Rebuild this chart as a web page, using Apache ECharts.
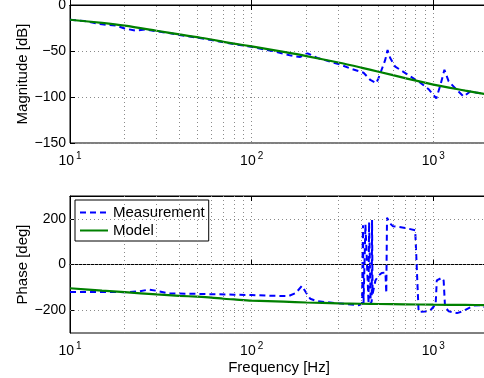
<!DOCTYPE html>
<html>
<head>
<meta charset="utf-8">
<script src="https://cdn.jsdelivr.net/npm/echarts@6/dist/echarts.min.js"></script>
<style>
  html, body { margin: 0; padding: 0; background: #fff; }
  #chart { width: 484px; height: 378px; }
</style>
</head>
<body>
<div id="chart"></div>
<script>
// magnitude, measured
const magFreq = [10, 12, 15, 18, 20, 23, 26, 30, 35, 40, 50, 60, 80, 100, 130, 165, 185, 203, 230, 270, 310, 349, 413, 450, 485, 498, 543, 560, 580, 617, 701, 848, 942, 1039, 1094, 1151, 1215, 1350, 1468, 1598, 1740, 1893, 2000]
const magMeas = [-16, -17.5, -21, -22.5, -25.5, -28, -26.5, -28.5, -30.5, -32.5, -35.5, -38, -42.5, -45.5, -50, -55, -56.5, -52.5, -57.5, -61.5, -65, -69, -73.6, -81.5, -85, -80, -60, -49, -58, -67, -74, -84.5, -91.5, -101.5, -87, -70.5, -83, -92.5, -99.5, -94, -95.5, -96.5, -97]

// model (both plots)
const modelFreq = [10, 15, 20, 30, 40, 50, 60, 70, 80, 100, 150, 200, 300, 400, 500, 700, 1000, 1500, 2000]
const modelMag = [-16, -19.5, -22.5, -28, -32, -35, -37.5, -40, -42, -45, -51, -55.5, -62.5, -68, -72.5, -79.5, -86.5, -93, -97.5]
const modelPhase = [-104, -114, -121, -131, -137, -141, -145, -150, -153, -158, -163, -166.5, -170, -172, -173, -174.5, -176, -177, -178]

// phase, measured
const phaseFreq = [10, 15, 20, 24, 27, 30, 35, 45, 60, 80, 100, 130, 160, 175, 189, 200, 210, 230, 300, 390, 405, 410, 413, 421, 423, 440, 443, 448, 452, 458, 460, 463, 480, 500, 520, 545, 551, 556, 580, 600, 700, 795, 805, 830, 900, 960, 1000, 1030, 1045, 1115, 1140, 1160, 1215, 1350, 1450, 1530, 1670, 1780, 1900, 2000]
const phaseMeas = [-120, -120, -121, -118, -110, -115, -127, -128, -130, -132, -134, -137, -138, -125, -94, -125, -150, -161, -170, -178, -172, 172, -170, -168, 175, -170, 185, 190, -172, -160, 195, -130, -70, -48, -37, -35, -125, 205, 178, 168, 160, 150, 150, -208, -206, -202, -186, -175, -70, -58, -70, -185, -205, -213, -205, -195, -180, -178, -185, -188]

const minorFreqs = [20, 30, 40, 50, 60, 70, 80, 90, 200, 300, 400, 500, 600, 700, 800, 900]
const phaseTicks = [-200, 0, 200]

const zip = (xs, ys) => xs.map((x, i) => [x, ys[i]])

const FONT = 'Liberation Sans, Arial, Helvetica, sans-serif'
const dotted = { color: '#8a8a8a', width: 1, type: [1, 3] }
const nameStyle = { fontSize: 15, color: '#000', fontFamily: FONT }

const expLabel = (v) => {
  const e = Math.log10(v)
  if (Math.abs(e - Math.round(e)) > 1e-6) return ''
  return '{b|10}{e|' + Math.round(e) + '}'
}

const xAxisBase = (gridIndex, showLabel) => ({
  type: 'log',
  logBase: 10,
  gridIndex,
  min: 10,
  max: 2000,
  axisLine: { show: true, lineStyle: { color: '#000', width: 1 } },
  axisTick: { show: true, inside: true, length: 5, lineStyle: { color: '#000' } },
  splitLine: { show: showLabel, lineStyle: dotted },
  axisLabel: {
    show: showLabel,
    margin: 8,
    color: '#000',
    formatter: expLabel,
    rich: {
      b: { fontSize: 14, fontFamily: FONT, color: '#000' },
      e: { fontSize: 10, fontFamily: FONT, color: '#000', padding: [0, 0, 11, 2] }
    }
  }
})

const gridLines = (gridIndex, vertical, horizontal) => ({
  type: 'line',
  name: 'grid' + gridIndex,
  xAxisIndex: gridIndex * 2,
  yAxisIndex: gridIndex,
  data: [],
  silent: true,
  markLine: {
    silent: true,
    symbol: 'none',
    label: { show: false },
    lineStyle: dotted,
    animation: false,
    data: vertical.map(f => ({ xAxis: f })).concat(horizontal.map(v => ({ yAxis: v })))
  }
})

const chart = echarts.init(document.getElementById('chart'), null, { renderer: 'canvas' })
chart.setOption({
  animation: false,
  textStyle: { fontFamily: FONT },
  grid: [
    { left: 70, top: 5, right: -4, height: 138, show: true, borderColor: '#000', borderWidth: 1, containLabel: false, outerBoundsMode: 'none' },
    { left: 70, top: 196, right: -4, height: 137, show: true, borderColor: '#000', borderWidth: 1, containLabel: false, outerBoundsMode: 'none' }
  ],
  legend: {
    data: ['Measurement', 'Model'],
    orient: 'vertical',
    left: 75,
    top: 200,
    itemWidth: 28,
    itemHeight: 14,
    itemGap: 3,
    padding: [5, 4, 3, 4],
    borderColor: '#000',
    borderWidth: 1,
    backgroundColor: '#fff',
    borderRadius: 0,
    itemStyle: { opacity: 0 },
    textStyle: nameStyle
  },
  xAxis: [
    xAxisBase(0, true),
    Object.assign(xAxisBase(0, false), { position: 'top' }),
    Object.assign(xAxisBase(1, true), {
      name: 'Frequency [Hz]',
      nameLocation: 'middle',
      nameGap: 27,
      nameMoveOverlap: false,
      nameTextStyle: nameStyle
    }),
    Object.assign(xAxisBase(1, false), { position: 'top' })
  ],
  yAxis: [
    {
      type: 'value',
      gridIndex: 0,
      min: -150,
      max: 0,
      interval: 50,
      name: 'Magnitude [dB]',
      nameLocation: 'middle',
      nameGap: 40,
      nameMoveOverlap: false,
      nameTextStyle: nameStyle,
      axisLine: { show: true, lineStyle: { color: '#000' } },
      axisTick: { show: true, inside: true, length: 5, lineStyle: { color: '#000' } },
      splitLine: { show: true, lineStyle: dotted },
      axisLabel: {
        margin: 4,
        fontSize: 14,
        color: '#000',
        fontFamily: FONT,
        formatter: v => (v < 0 ? '\u2212' + Math.abs(v) : String(v))
      }
    },
    {
      type: 'value',
      gridIndex: 1,
      min: -300,
      max: 300,
      interval: 100,
      name: 'Phase [deg]',
      nameLocation: 'middle',
      nameGap: 40,
      nameMoveOverlap: false,
      nameTextStyle: nameStyle,
      axisLine: { show: true, lineStyle: { color: '#000' } },
      axisTick: { show: true, inside: true, length: 5, customValues: phaseTicks, lineStyle: { color: '#000' } },
      splitLine: { show: false },
      axisLabel: {
        margin: 4,
        fontSize: 14,
        color: '#000',
        fontFamily: FONT,
        customValues: phaseTicks,
        formatter: v => (v < 0 ? '\u2212' + Math.abs(v) : String(v))
      }
    }
  ],
  series: [
    gridLines(0, minorFreqs, []),
    gridLines(1, minorFreqs, phaseTicks),
    {
      name: 'Measurement', type: 'line', xAxisIndex: 0, yAxisIndex: 0,
      data: zip(magFreq, magMeas), symbol: 'none', showSymbol: false,
      lineStyle: { color: '#0000ff', width: 2, type: [6, 4] }, itemStyle: { color: '#0000ff' }
    },
    {
      name: 'Model', type: 'line', xAxisIndex: 0, yAxisIndex: 0,
      data: zip(modelFreq, modelMag), symbol: 'none', showSymbol: false, smooth: 0.3,
      lineStyle: { color: '#008000', width: 2.2 }, itemStyle: { color: '#008000' }
    },
    {
      name: 'Measurement', type: 'line', xAxisIndex: 2, yAxisIndex: 1,
      data: zip(phaseFreq, phaseMeas), symbol: 'none', showSymbol: false,
      lineStyle: { color: '#0000ff', width: 2, type: [6, 4] }, itemStyle: { color: '#0000ff' }
    },
    {
      name: 'Model', type: 'line', xAxisIndex: 2, yAxisIndex: 1,
      data: zip(modelFreq, modelPhase), symbol: 'none', showSymbol: false, smooth: 0.3,
      lineStyle: { color: '#008000', width: 2.2 }, itemStyle: { color: '#008000' }
    }
  ]
})
</script>
</body>
</html>
